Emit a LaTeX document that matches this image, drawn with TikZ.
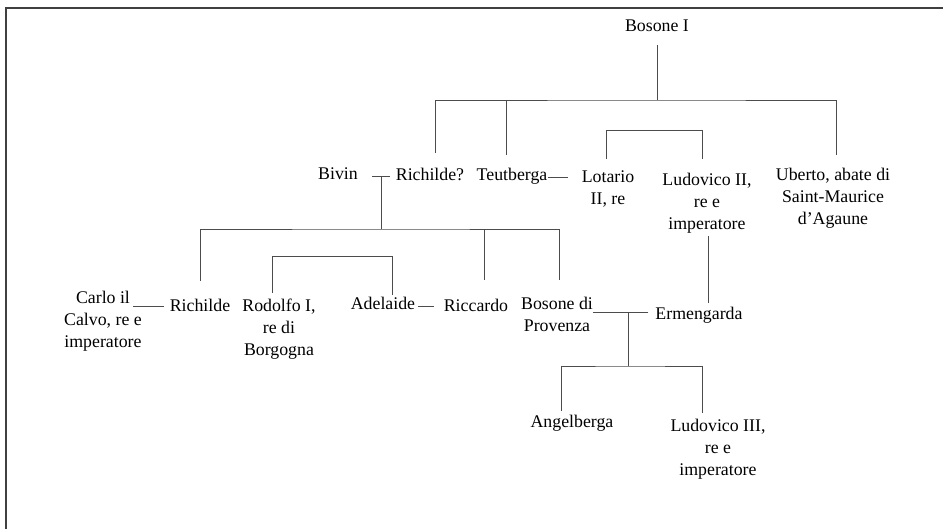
\documentclass[tikz,border=0pt]{standalone}
\usepackage{fontspec}
\setmainfont{Liberation Serif}
\usetikzlibrary{calc,positioning}

\begin{document}
\begin{tikzpicture}[x=0.03cm,y=-0.03cm]
\tikzstyle{person}=[inner sep=0pt,outer sep=0pt,anchor=north,align=center,font=\fontsize{15.2pt}{18.8pt}\selectfont]
\tikzstyle{link}=[draw=black!70,line width=0.8pt]
\tikzstyle{frame}=[draw=black!75,line width=1.4pt]

\useasboundingbox (0,0) rectangle (943,529);
\draw [frame] (6,529) -- (6,8) -- (943,8);

\coordinate (g1) at (0,100);
\coordinate (g3) at (0,229);
\coordinate (g5) at (0,366);

\node [person] (B) at (657,20) {Bosone I};

\node [person] (Bv) at (338,168) {Bivin};
\node [person] (R) at (430,168) {Richilde?};
\node [person] (T) at (512,168) {Teutberga};
\node [person] (L) at (608,171) {Lotario\\II, re};
\node [person] (Lu) at (707,173) {Ludovico II,\\re e\\imperatore};
\node [person] (U) at (833,168) {Uberto, abate di\\Saint-Maurice\\d’Agaune};

\node [person] (C) at (103,291) {Carlo il\\Calvo, re e\\imperatore};
\node [person] (Rc) at (200,299) {Richilde};
\node [person] (Ro) at (279,299) {Rodolfo I,\\re di\\Borgogna};
\node [person] (A) at (383,297) {Adelaide};
\node [person] (Ri) at (476,299) {Riccardo};
\node [person] (Bp) at (557,297) {Bosone di\\Provenza};
\node [person] (E) at (699,307) {Ermengarda};

\node [person] (An) at (572,415) {Angelberga};
\node [person] (L3) at (718,419) {Ludovico III,\\re e\\imperatore};

\draw [link] ($(B.south)+(0,13)$) -- (B |- g1);
\draw [link] ($(R.north)+(5,-15)$) |- (B |- g1) -| ($(U.north)+(3,-13)$);
\coordinate (t1) at ($(T.north)+(-6,-13)$);
\draw [link] (t1) -- (t1 |- g1);
\draw [link] ($(T.east)+(1,1)$) -- ($(T.east)+(21,1)$);
\draw [link] ($(L.north)+(-2,-12)$) |- ($(Lu.north)+(-5,-43)$) -- ($(Lu.north)+(-5,-14)$);

\coordinate (m1) at ($(R.west)+(-14,2)$);
\draw [link] ($(R.west)+(-6,2)$) -- ($(R.west)+(-24,2)$);
\draw [link] (m1) -- (m1 |- g3);
\draw [link] ($(Rc.north)+(0,-18)$) |- (m1 |- g3) -| ($(Bp.north)+(2,-17)$);
\coordinate (r1) at ($(Ri.north)+(8,-19)$);
\draw [link] (r1) -- (r1 |- g3);
\draw [link] ($(Ro.north)+(-7,-6)$) |- ($(A.north)+(9,-41)$) -- ($(A.north)+(9,-2)$);

\draw [link] ($(Rc.west)+(-6,1)$) -- ($(Rc.west)+(-37,1)$);
\draw [link] ($(A.east)+(3,3)$) -- ($(A.east)+(19,3)$);

\coordinate (m2) at ($(E.west)+(-27,-3)$);
\draw [link] ($(E.west)+(-7,-3)$) -- ($(E.west)+(-62,-3)$);
\draw [link] ($(Lu.south)+(1,3)$) -- ($(E.north)+(9,-4)$);
\draw [link] (m2) -- (m2 |- g5);
\draw [link] ($(An.north)+(-11,-4)$) |- (m2 |- g5) -| ($(L3.north)+(-16,-6)$);
\end{tikzpicture}
\end{document}
